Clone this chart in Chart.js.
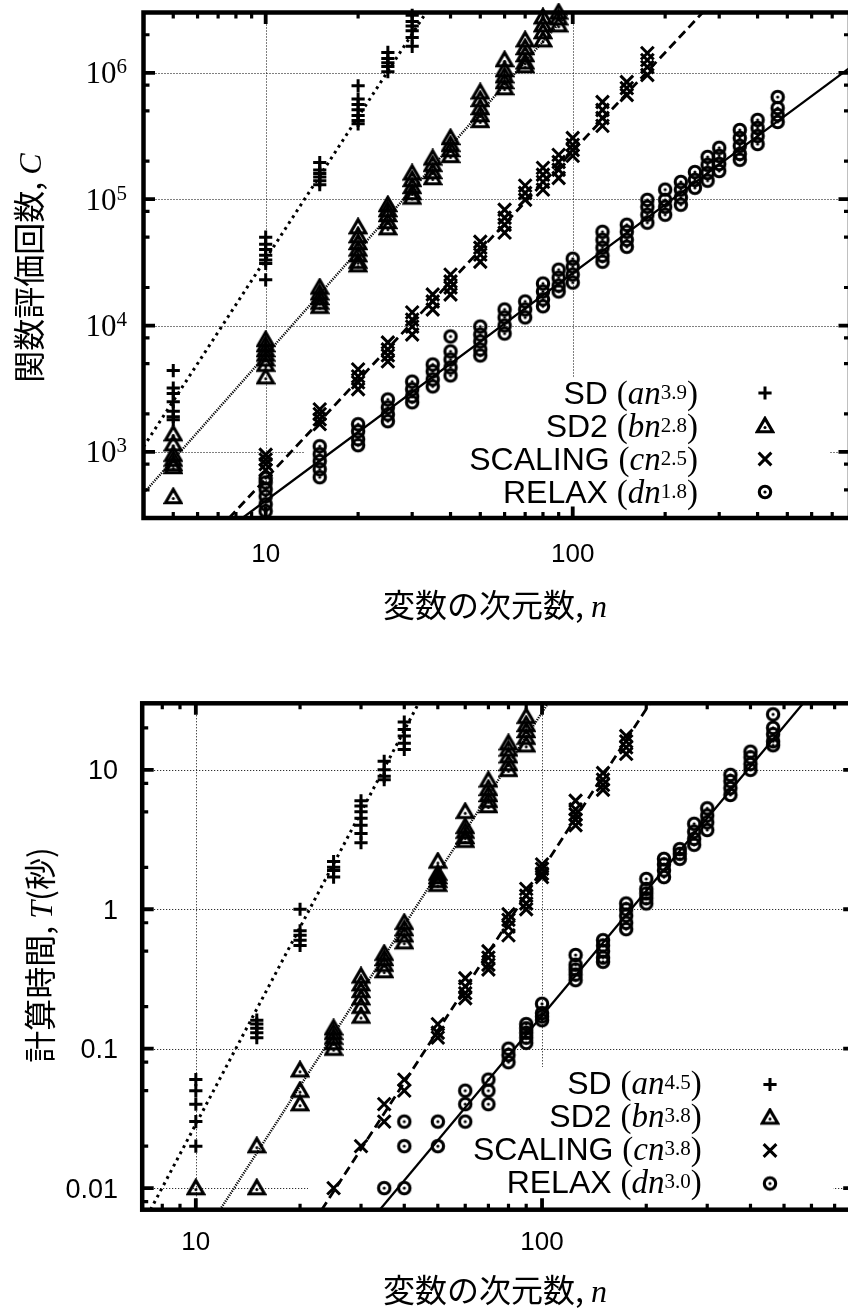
<!DOCTYPE html>
<html lang="ja"><head><meta charset="utf-8">
<script src="https://cdn.jsdelivr.net/npm/chart.js@4.4.1/dist/chart.umd.min.js"></script>
<style>
html,body{margin:0;padding:0;background:#fff;overflow:hidden;}
body{width:848px;height:1313px;position:relative;}
canvas{position:absolute;left:0;}
#c1{top:0;}
#c2{top:680px;}
</style></head><body>
<canvas id="c1" width="870" height="650"></canvas>
<canvas id="c2" width="870" height="633"></canvas>
<script>
// ================= Figure 1 : function evaluations C =================
const evalSD_n = [5, 10, 15, 20, 25, 30];
const evalSD_C = [
  [4400, 3200, 2900, 2500, 2100, 1900, 1800],
  [50000, 44000, 40000, 36000, 33000, 31000, 23000],
  [195000, 170000, 160000, 150000, 140000, 130000],
  [790000, 620000, 560000, 510000, 460000, 420000, 395000],
  [1450000, 1300000, 1200000, 1120000, 1020000],
  [2850000, 2550000, 2350000, 2150000, 1900000, 1620000]
];
const evalSD2_n = [5, 10, 15, 20, 25, 30, 35, 40, 50, 60, 70, 80, 90];
const evalSD2_C = [
  [1380, 1150, 950, 870, 800, 760, 440],
  [7700, 7000, 6400, 5900, 5400, 4900, 3900],
  [20000, 18000, 16500, 15200, 14100],
  [60000, 51000, 45000, 40000, 36000, 32000, 30000],
  [90000, 82000, 75000, 66000, 59000],
  [160000, 142000, 125000, 112000, 103000],
  [210000, 187000, 164000, 147000],
  [305000, 269000, 245000, 220000],
  [700000, 610000, 526000, 463000, 416000],
  [1260000, 1050000, 940000, 845000, 757000],
  [1810000, 1570000, 1380000, 1210000, 1130000],
  [2750000, 2380000, 2100000, 1810000],
  [3000000, 2700000, 2380000]
];
const evalSCALING_n = [10, 15, 20, 25, 30, 35, 40, 50, 60, 70, 80, 90, 100, 125, 150, 175];
const evalSCALING_C = [
  [950, 870, 800, 720],
  [2170, 1990, 1810, 1660],
  [4500, 3960, 3550, 3130],
  [7350, 6470, 5800, 5200],
  [12700, 11150, 9800, 8500],
  [17600, 15500, 13400],
  [25300, 22300, 20000, 17600],
  [46000, 41300, 36400, 32000],
  [82400, 71300, 62800, 54300],
  [128000, 112000, 99000],
  [177000, 156000, 137000, 119000],
  [224000, 197000, 171000, 147000],
  [305000, 269000, 245000, 220000],
  [587000, 508000, 439000, 380000],
  [845000, 757000, 667000],
  [1430000, 1260000, 1110000, 960000]
];
const evalRELAX_n = [10, 15, 20, 25, 30, 35, 40, 50, 60, 70, 80, 90, 100, 125, 150, 175, 200, 225, 250, 275, 300, 350, 400, 465];
const evalRELAX_C = [
  [620, 574, 506, 445, 385, 340],
  [1110, 960, 845, 730, 631],
  [1656, 1456, 1260, 1130],
  [2600, 2250, 1980, 1750],
  [3600, 3130, 2750, 2470],
  [4920, 4340, 3750, 3300],
  [8200, 6240, 5390, 4660, 4030],
  [9820, 8490, 7480, 6470, 5800],
  [13400, 11600, 10000, 8650],
  [15500, 13400, 11600],
  [21500, 18600, 16100, 14200],
  [27700, 23900, 20700, 18600],
  [33800, 29200, 25300, 21900],
  [55200, 47700, 41300, 35700, 32000],
  [62800, 55200, 47700, 42000],
  [98800, 87000, 75300, 65200],
  [119000, 98800, 87000, 75300],
  [137000, 119000, 103000, 90400],
  [164000, 142000, 123000],
  [216000, 187000, 161000, 140000],
  [255000, 220000, 190000, 167000],
  [353000, 305000, 264000, 228000, 205000],
  [424000, 366000, 316000, 273000],
  [643000, 526000, 463000, 408000]
];
// fitted power-law lines, read as two end points [n, C]
const evalFitSD = [[4, 1100], [33.3, 3e6]];
const evalFitSD2 = [[4, 470], [97, 3e6]];
const evalFitSCALING = [[7.6, 300], [265, 3e6]];
const evalFitRELAX = [[8.4, 300], [800, 1.1e6]];
const evalKeyNames = ['SD', 'SD2', 'SCALING', 'RELAX'];
const evalKeyCoefs = ['a', 'b', 'c', 'd'];
const evalKeyExps = ['3.9', '2.8', '2.5', '1.8'];
const evalYTickExps = [3, 4, 5, 6];
const evalXTickValues = [10, 100];
const evalXTickLabels = ['10', '100'];

// ================= Figure 2 : computing time T =================
const timeSD_n = [10, 15, 20, 25, 30, 35, 40];
const timeSD_T = [
  [0.06, 0.05, 0.04, 0.03, 0.02],
  [0.16, 0.15, 0.14, 0.13, 0.12],
  [1.0, 0.7, 0.65, 0.6, 0.55],
  [2.2, 2.0, 1.9, 1.7],
  [6.0, 5.5, 5.0, 4.5, 4.0, 3.5, 3.0],
  [11.5, 10, 9, 8.5],
  [22, 19.5, 17.5, 15.5, 14]
];
const timeSD2_n = [10, 15, 20, 25, 30, 35, 40, 50, 60, 70, 80, 90];
const timeSD2_T = [
  [0.01],
  [0.02, 0.01],
  [0.07, 0.05, 0.04],
  [0.14, 0.13, 0.12, 0.11, 0.1],
  [0.33, 0.29, 0.26, 0.23, 0.2, 0.17],
  [0.48, 0.44, 0.4, 0.36],
  [0.8, 0.72, 0.65, 0.58],
  [2.2, 1.8, 1.7, 1.6, 1.5],
  [5.0, 3.9, 3.6, 3.3, 3.1],
  [8.4, 7.3, 6.6, 6.0, 5.5],
  [15.5, 14, 12.5, 11, 10],
  [24, 21, 19, 17, 15]
];
const timeSCALING_n = [25, 30, 35, 40, 50, 60, 70, 80, 90, 100, 125, 150, 175];
const timeSCALING_T = [
  [0.01],
  [0.02],
  [0.04, 0.03],
  [0.06, 0.05],
  [0.15, 0.13, 0.12],
  [0.32, 0.28, 0.25, 0.23],
  [0.5, 0.45, 0.4, 0.37],
  [0.92, 0.84, 0.75, 0.65],
  [1.4, 1.25, 1.1, 1.0],
  [2.1, 1.95, 1.8, 1.7],
  [6.0, 5.2, 4.8, 4.4, 4.0],
  [9.5, 8.5, 7.8, 7.2],
  [17.5, 16, 14.5, 13]
];
const timeRELAX_n = [35, 40, 50, 60, 70, 80, 90, 100, 125, 150, 175, 200, 225, 250, 275, 300, 350, 400, 465];
const timeRELAX_T = [
  [0.01],
  [0.03, 0.02, 0.01],
  [0.03, 0.02],
  [0.05, 0.04, 0.03],
  [0.06, 0.05, 0.04],
  [0.1, 0.09, 0.08],
  [0.15, 0.14, 0.13, 0.12, 0.11],
  [0.21, 0.18, 0.17, 0.16],
  [0.47, 0.4, 0.37, 0.34, 0.31],
  [0.6, 0.55, 0.5, 0.45, 0.42],
  [1.1, 1.0, 0.9, 0.8, 0.72],
  [1.65, 1.4, 1.3, 1.2, 1.1],
  [2.3, 2.1, 1.9, 1.7],
  [2.7, 2.5, 2.3],
  [4.1, 3.6, 3.2, 2.9],
  [5.3, 4.7, 4.2, 3.7],
  [9.2, 8.3, 7.4, 6.6],
  [13.5, 12.3, 11, 10],
  [25, 20, 18, 16, 15]
];
const timeFitSD = [[7.4, 0.007], [44, 30]];
const timeFitSD2 = [[11.75, 0.007], [104, 30]];
const timeFitSCALING = [[23.1, 0.007], [205, 30]];
const timeFitRELAX = [[34, 0.007], [568, 30]];
const timeKeyNames = ['SD', 'SD2', 'SCALING', 'RELAX'];
const timeKeyCoefs = ['a', 'b', 'c', 'd'];
const timeKeyExps = ['4.5', '3.8', '3.8', '3.0'];
const timeYTickValues = [0.01, 0.1, 1, 10];
const timeYTickLabels = ['0.01', '0.1', '1', '10'];
const timeXTickValues = [10, 100];
const timeXTickLabels = ['10', '100'];

// ================= helpers =================
const SERIF = '"Liberation Serif", "DejaVu Serif", serif';
const SANS = '"Liberation Sans", Arial, sans-serif';
const CJK = '"Noto Sans CJK JP", "Noto Sans CJK SC", sans-serif';

function markerCanvas(kind) {
  const c = document.createElement('canvas');
  c.width = 20; c.height = 20;
  const g = c.getContext('2d');
  g.strokeStyle = '#000'; g.fillStyle = '#000'; g.lineWidth = 3.1; g.lineJoin = 'miter';
  if (kind === 'tri') {
    g.beginPath(); g.moveTo(10, 2.4); g.lineTo(2.2, 15.8); g.lineTo(17.8, 15.8); g.closePath(); g.stroke();
    g.beginPath(); g.arc(10, 11.5, 1.5, 0, 2 * Math.PI); g.fill();
  } else {
    g.beginPath(); g.arc(10, 10, 5.7, 0, 2 * Math.PI); g.stroke();
    g.beginPath(); g.arc(10, 10, 1.6, 0, 2 * Math.PI); g.fill();
  }
  return c;
}
const MARKS = [
  {style: 'cross', r: 6.6},
  {style: markerCanvas('tri'), r: 8},
  {style: 'crossRot', r: 9},
  {style: markerCanvas('circ'), r: 8}
];
const LINES = [
  {dash: [2.8, 4.2], w: 3},
  {dash: [1.2, 1.2], w: 2.4},
  {dash: [9, 5], w: 2.8},
  {dash: [], w: 2.3}
];

function pts(ns, vals) {
  const out = [];
  ns.forEach((n, i) => vals[i].forEach(v => out.push({x: n, y: v})));
  return out;
}
function ticksFor(min, max, mult) {
  const out = [];
  for (let e = -4; e <= 8; e++) mult.forEach(m => {
    const v = +(m * Math.pow(10, e)).toPrecision(6);
    if (v > min * 1.0001 && v < max * 0.9999) out.push(v);
  });
  return out;
}
function drawRich(ctx, parts, x, y, align, rot) {
  ctx.save();
  ctx.translate(x, y);
  if (rot) ctx.rotate(rot);
  let total = 0;
  parts.forEach(p => { ctx.font = p.f; p.w = ctx.measureText(p.t).width; total += p.w; });
  let cx = align === 'center' ? -total / 2 : (align === 'right' ? -total : 0);
  ctx.textAlign = 'left'; ctx.textBaseline = 'alphabetic'; ctx.fillStyle = '#000';
  parts.forEach(p => { ctx.font = p.f; ctx.fillText(p.t, cx, p.dy || 0); cx += p.w; });
  ctx.restore();
}
function drawMarker(ctx, i, x, y) {
  const m = MARKS[i];
  ctx.save();
  ctx.strokeStyle = '#000'; ctx.lineWidth = 3;
  if (m.style === 'cross') {
    ctx.beginPath(); ctx.moveTo(x - m.r, y); ctx.lineTo(x + m.r, y); ctx.moveTo(x, y - m.r); ctx.lineTo(x, y + m.r); ctx.stroke();
  } else if (m.style === 'crossRot') {
    const d = m.r * Math.SQRT1_2;
    ctx.beginPath(); ctx.moveTo(x - d, y - d); ctx.lineTo(x + d, y + d); ctx.moveTo(x - d, y + d); ctx.lineTo(x + d, y - d); ctx.stroke();
  } else {
    ctx.drawImage(m.style, x - m.style.width / 2, y - m.style.height / 2);
  }
  ctx.restore();
}

function gnuPlugin(spec) {
  return {
    id: 'gnu_' + spec.id,
    beforeDatasetsDraw(chart) {
      const {ctx, chartArea: a, scales: {x, y}} = chart;
      ctx.save();
      ctx.strokeStyle = '#000'; ctx.lineWidth = 1; ctx.setLineDash([1, 2]);
      spec.xMajor.forEach(v => {
        const px = Math.round(x.getPixelForValue(v)) + 0.5;
        ctx.beginPath(); ctx.moveTo(px, a.top); ctx.lineTo(px, a.bottom); ctx.stroke();
      });
      spec.yMajor.forEach(v => {
        const py = Math.round(y.getPixelForValue(v)) + 0.5;
        ctx.beginPath(); ctx.moveTo(a.left, py); ctx.lineTo(a.right, py); ctx.stroke();
      });
      ctx.setLineDash([]);
      const b = spec.keyBox;
      ctx.fillStyle = '#fff';
      ctx.fillRect(b[0], b[1], b[2] - b[0], b[3] - b[1]);
      ctx.restore();
    },
    afterDatasetsDraw(chart) {
      const {ctx, chartArea: a, scales: {x, y}} = chart;
      ctx.save();
      ctx.strokeStyle = '#000'; ctx.lineWidth = 4.5; ctx.setLineDash([]);
      ctx.strokeRect(a.left, a.top, a.right - a.left, a.bottom - a.top);
      const tick = (vals, len, w) => {
        ctx.lineWidth = w;
        vals.forEach(v => {
          const px = x.getPixelForValue(v);
          ctx.beginPath();
          ctx.moveTo(px, a.bottom); ctx.lineTo(px, a.bottom - len);
          ctx.moveTo(px, a.top); ctx.lineTo(px, a.top + len);
          ctx.stroke();
        });
      };
      const tickY = (vals, len, w) => {
        ctx.lineWidth = w;
        vals.forEach(v => {
          const py = y.getPixelForValue(v);
          ctx.beginPath();
          ctx.moveTo(a.left, py); ctx.lineTo(a.left + len, py);
          ctx.moveTo(a.right, py); ctx.lineTo(a.right - len, py);
          ctx.stroke();
        });
      };
      tick(spec.xMinor, 6, 3.2); tick(spec.xMajor, 11.5, 3.8);
      tickY(spec.yMinor, 6, 3.2); tickY(spec.yMajor, 11.5, 3.8);
      const k = spec.key;
      k.names.forEach((nm, i) => {
        const base = k.rows[i];
        drawRich(ctx, [
          {t: nm + ' ', f: '32px ' + SANS},
          {t: '(', f: '33px ' + SERIF},
          {t: k.coefs[i] + 'n', f: 'italic 33px ' + SERIF},
          {t: k.exps[i], f: '21px ' + SERIF, dy: -5.5},
          {t: ')', f: '33px ' + SERIF}
        ], k.textRight, base, 'right');
        drawMarker(ctx, i, k.symX, base + k.symDy);
      });
      ctx.restore();
    },
    afterDraw(chart) {
      const {ctx, scales: {x, y}} = chart;
      ctx.save();
      ctx.fillStyle = '#000';
      ctx.font = '26px ' + SANS; ctx.textAlign = 'center'; ctx.textBaseline = 'alphabetic';
      spec.xLabels.forEach((t, i) => ctx.fillText(t, x.getPixelForValue(spec.xLabelValues[i]), spec.xLabelBase));
      if (spec.yPow) {
        spec.yPow.forEach(e => {
          const g = y.getPixelForValue(Math.pow(10, e));
          drawRich(ctx, [
            {t: '10', f: '31px ' + SERIF, dy: 10.5},
            {t: String(e), f: '21px ' + SERIF, dy: 0.5}
          ], spec.yLabelRight, g, 'right');
        });
      } else {
        ctx.font = '27px ' + SANS; ctx.textAlign = 'right';
        spec.yLabels.forEach((t, i) => ctx.fillText(t, spec.yLabelRight, y.getPixelForValue(spec.yLabelValues[i]) + 9.6));
      }
      drawRich(ctx, spec.xTitle, spec.xTitlePos[0], spec.xTitlePos[1], 'center');
      drawRich(ctx, spec.yTitle, spec.yTitlePos[0], spec.yTitlePos[1], 'center', -Math.PI / 2);
      ctx.restore();
    }
  };
}

function build(canvasId, spec) {
  const datasets = [];
  spec.fits.forEach((f, i) => datasets.push({
    showLine: true, data: f.map(([xv, yv]) => ({x: xv, y: yv})),
    borderColor: '#000', borderWidth: LINES[i].w, borderDash: LINES[i].dash, borderCapStyle: 'butt',
    pointRadius: 0, pointHoverRadius: 0, fill: false, tension: 0, order: 2
  }));
  spec.series.forEach((s, i) => datasets.push({
    showLine: false, data: pts(s[0], s[1]),
    pointStyle: MARKS[i].style, pointRadius: MARKS[i].r, pointHoverRadius: MARKS[i].r,
    borderColor: '#000', backgroundColor: 'rgba(0,0,0,0)', borderWidth: 3, pointBorderWidth: 3,
    clip: false, order: 1
  }));
  new Chart(document.getElementById(canvasId), {
    type: 'scatter',
    data: {datasets},
    options: {
      responsive: false, devicePixelRatio: 1, animation: false, events: [],
      layout: {padding: spec.pad},
      scales: {
        x: {type: 'logarithmic', min: spec.xr[0], max: spec.xr[1], display: false},
        y: {type: 'logarithmic', min: spec.yr[0], max: spec.yr[1], display: false}
      },
      plugins: {legend: {display: false}, tooltip: {enabled: false}}
    },
    plugins: [gnuPlugin(spec)]
  });
}

const X_MULT = [1, 2, 3, 4, 5, 6, 7, 8, 9];
const Y_MULT = [1, 2, 5, 8];

build('c1', {
  id: 'eval',
  pad: {left: 143.5, top: 12.5, right: 20, bottom: 132},
  xr: [4, 800], yr: [300, 3e6],
  xMajor: [10, 100], xMinor: ticksFor(4, 800, X_MULT).filter(v => v !== 10 && v !== 100),
  yMajor: [1e3, 1e4, 1e5, 1e6], yMinor: ticksFor(300, 3e6, Y_MULT).filter(v => ![1e3, 1e4, 1e5, 1e6].includes(v)),
  keyBox: [305, 377, 830, 518],
  key: {names: evalKeyNames, coefs: evalKeyCoefs, exps: evalKeyExps, rows: [404, 437, 470, 503], textRight: 698, symX: 765, symDy: -11},
  fits: [evalFitSD, evalFitSD2, evalFitSCALING, evalFitRELAX],
  series: [[evalSD_n, evalSD_C], [evalSD2_n, evalSD2_C], [evalSCALING_n, evalSCALING_C], [evalRELAX_n, evalRELAX_C]],
  xLabels: evalXTickLabels, xLabelValues: evalXTickValues, xLabelBase: 561.5,
  yPow: evalYTickExps, yLabelRight: 127,
  xTitle: [{t: '変数の次元数, ', f: '32px ' + CJK}, {t: 'n', f: 'italic 32px ' + SERIF}],
  xTitlePos: [495, 617],
  yTitle: [{t: '関数評価回数, ', f: '32px ' + CJK}, {t: 'C', f: 'italic 32px ' + SERIF}],
  yTitlePos: [41, 268]
});

build('c2', {
  id: 'time',
  pad: {left: 142.2, top: 23.3, right: 15.3, bottom: 103.3},
  xr: [7, 800], yr: [0.007, 30],
  xMajor: [10, 100], xMinor: ticksFor(7, 800, X_MULT).filter(v => v !== 10 && v !== 100),
  yMajor: [0.01, 0.1, 1, 10], yMinor: ticksFor(0.007, 30, Y_MULT).filter(v => ![0.01, 0.1, 1, 10].includes(v)),
  keyBox: [308, 387, 833, 530],
  key: {names: timeKeyNames, coefs: timeKeyCoefs, exps: timeKeyExps, rows: [414, 447, 480, 513], textRight: 701.7, symX: 770, symDy: -9.5},
  fits: [timeFitSD, timeFitSD2, timeFitSCALING, timeFitRELAX],
  series: [[timeSD_n, timeSD_T], [timeSD2_n, timeSD2_T], [timeSCALING_n, timeSCALING_T], [timeRELAX_n, timeRELAX_T]],
  xLabels: timeXTickLabels, xLabelValues: timeXTickValues, xLabelBase: 569.5,
  yLabels: timeYTickLabels, yLabelValues: timeYTickValues, yLabelRight: 118,
  xTitle: [{t: '変数の次元数, ', f: '32px ' + CJK}, {t: 'n', f: 'italic 32px ' + SERIF}],
  xTitlePos: [495, 622],
  yTitle: [{t: '計算時間, ', f: '32px ' + CJK}, {t: 'T', f: 'italic 32px ' + SERIF}, {t: '(秒)', f: '32px ' + CJK}],
  yTitlePos: [52, 275]
});
</script>
</body></html>
